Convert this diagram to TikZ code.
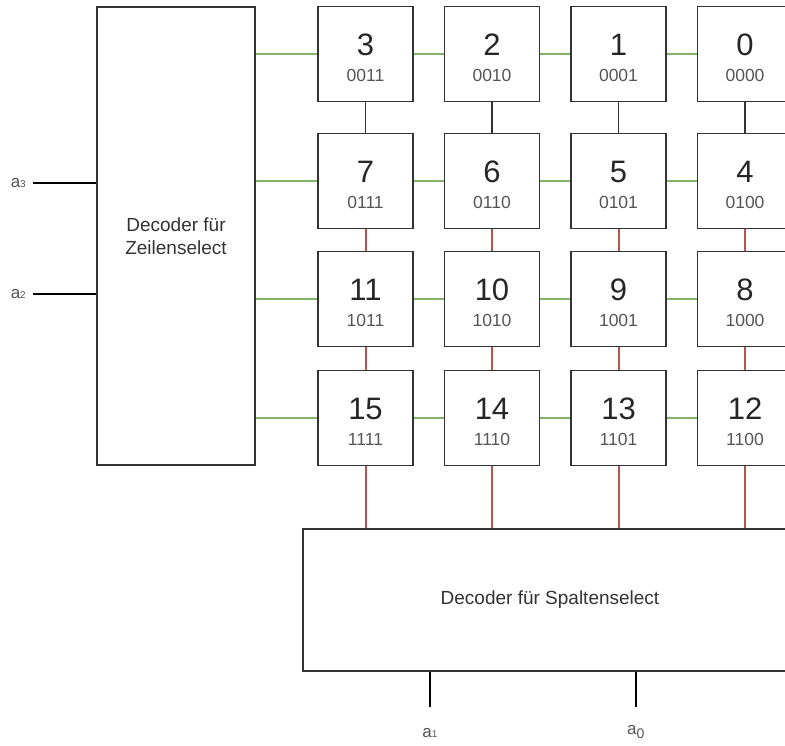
\documentclass[tikz,border=0pt]{standalone}
\usepackage{fontspec}
\setmainfont{Liberation Sans}
\usetikzlibrary{positioning}

\definecolor{rowgreen}{HTML}{82B366}
\definecolor{colred}{HTML}{B85450}
\definecolor{boxgray}{HTML}{333333}
\definecolor{bingray}{HTML}{555555}

\begin{document}
\begin{tikzpicture}[x=1pt, y=-1pt,
    cell/.style = {draw=boxgray, line width=1.3pt, minimum width=95pt, minimum height=95pt, inner sep=0pt},
    decoder/.style = {draw=boxgray, line width=1.3pt, inner sep=0pt, align=center, text=boxgray, font=\fontsize{19}{23}\selectfont},
    numtxt/.style = {text=black!85, font=\fontsize{31}{33}\selectfont, inner sep=0pt},
    bintxt/.style = {text=bingray, font=\fontsize{17.5}{19}\selectfont, inner sep=0pt},
    addr/.style = {text=bingray, font=\fontsize{17}{19}\selectfont, inner sep=0pt},
    rowline/.style = {draw=rowgreen, line width=2pt},
    colline/.style = {draw=colred, line width=2pt},
    linkline/.style = {draw=boxgray, line width=1.3pt},
    inline/.style = {draw=black, line width=2.5pt}]
  \useasboundingbox (0,0) rectangle (785,746);
  \clip (0,0) rectangle (785,746);

  % decoders
  \node[decoder, minimum width=158pt, minimum height=458pt] (zdec) at (176,236) {Decoder für\\Zeilenselect};
  \node[decoder, minimum width=494pt, minimum height=142pt] (sdec) at (550,600) {Decoder für Spaltenselect};

  % memory cells
  \foreach \n/\b/\cx/\cy in {3/0011/365.5/54, 2/0010/492/54, 1/0001/618.5/54, 0/0000/745/54,
                             7/0111/365.5/181, 6/0110/492/181, 5/0101/618.5/181, 4/0100/745/181,
                             11/1011/365.5/299, 10/1010/492/299, 9/1001/618.5/299, 8/1000/745/299,
                             15/1111/365.5/418, 14/1110/492/418, 13/1101/618.5/418, 12/1100/745/418} {
    \node[cell] (c\n) at (\cx,\cy) {};
    \node[numtxt] (n\n) at ([yshift=9pt]c\n.center) {\n};
    \node[bintxt] (b\n) at ([yshift=-21pt]c\n.center) {\b};
  }

  % row select lines
  \foreach \a/\b/\c/\d in {3/2/1/0, 7/6/5/4, 11/10/9/8, 15/14/13/12} {
    \draw[rowline] (c\a.west -| zdec.east) -- (c\a.west);
    \draw[rowline] (c\a) -- (c\b);
    \draw[rowline] (c\b) -- (c\c);
    \draw[rowline] (c\c) -- (c\d);
  }

  % column lines
  \foreach \t/\m/\u/\l in {3/7/11/15, 2/6/10/14, 1/5/9/13, 0/4/8/12} {
    \draw[linkline] (c\t) -- (c\m);
    \draw[colline] (c\m) -- (c\u);
    \draw[colline] (c\u) -- (c\l);
    \draw[colline] (c\l.south) -- (c\l.south |- sdec.north);
  }

  % address inputs
  \coordinate (p3) at (33,183);
  \coordinate (p2) at (33,294);
  \coordinate (p1) at (430,707);
  \coordinate (p0) at (636,707);
  \node[addr, left=7pt of p3] (a3) {a{\fontsize{10}{10}\selectfont 3}};
  \node[addr, left=7pt of p2] (a2) {a{\fontsize{10}{10}\selectfont 2}};
  \node[addr, below=21pt of p1] (a1) {a{\fontsize{10}{10}\selectfont 1}};
  \node[addr, below=18pt of p0] (a0) {a\textsubscript{\fontsize{14}{14}\selectfont 0}};
  \draw[inline] (p3) -- (p3 -| zdec.west);
  \draw[inline] (p2) -- (p2 -| zdec.west);
  \draw[inline] (p1) -- (p1 |- sdec.south);
  \draw[inline] (p0) -- (p0 |- sdec.south);
\end{tikzpicture}
\end{document}
